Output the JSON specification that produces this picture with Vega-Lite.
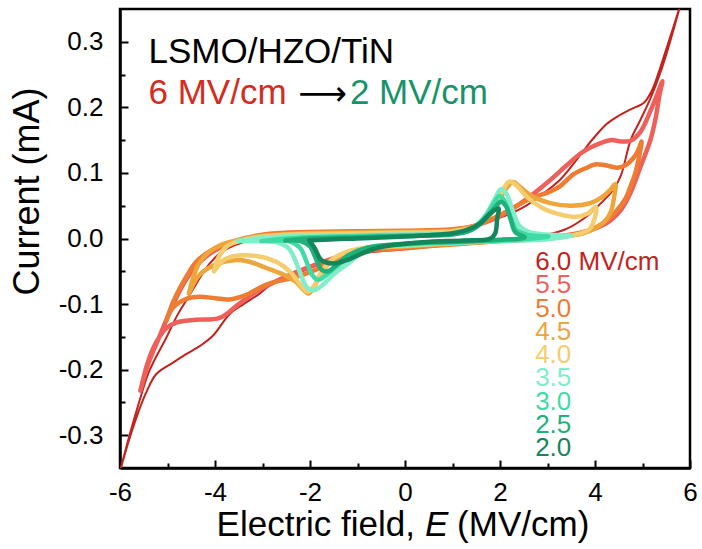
{
  "$schema": "https://vega.github.io/schema/vega-lite/v6.json",
  "width": 570,
  "height": 459,
  "autosize": "none",
  "padding": {"left": 120, "top": 9, "right": 12, "bottom": 81},
  "background": "white",
  "config": {
    "font": "Liberation Sans",
    "view": {"stroke": "black", "strokeWidth": 2.5},
    "axis": {"grid": false},
    "locale": {"number": {"decimal": ".", "thousands": ",", "grouping": [3], "currency": ["$", ""], "minus": "-"}}
  },
  "datasets": {
    "loops": [
      {"e":"6.0","x":-6.0,"y":-0.355},{"e":"6.0","x":-5.8,"y":-0.3},{"e":"6.0","x":-5.6,"y":-0.25},{"e":"6.0","x":-5.4,"y":-0.205},{"e":"6.0","x":-5.2,"y":-0.175},{"e":"6.0","x":-5.03,"y":-0.152},{"e":"6.0","x":-4.8,"y":-0.118},{"e":"6.0","x":-4.54,"y":-0.087},{"e":"6.0","x":-4.3,"y":-0.058},{"e":"6.0","x":-4.11,"y":-0.038},{"e":"6.0","x":-3.85,"y":-0.02},{"e":"6.0","x":-3.5,"y":-0.008},{"e":"6.0","x":-3.0,"y":0.0},{"e":"6.0","x":-2.0,"y":0.006},{"e":"6.0","x":-1.0,"y":0.009},{"e":"6.0","x":0,"y":0.011},{"e":"6.0","x":1.0,"y":0.014},{"e":"6.0","x":1.5,"y":0.021},{"e":"6.0","x":2.0,"y":0.032},{"e":"6.0","x":2.5,"y":0.048},{"e":"6.0","x":2.92,"y":0.069},{"e":"6.0","x":3.27,"y":0.09},{"e":"6.0","x":3.55,"y":0.114},{"e":"6.0","x":3.8,"y":0.138},{"e":"6.0","x":4.04,"y":0.159},{"e":"6.0","x":4.25,"y":0.175},{"e":"6.0","x":4.47,"y":0.186},{"e":"6.0","x":4.75,"y":0.197},{"e":"6.0","x":5.03,"y":0.207},{"e":"6.0","x":5.2,"y":0.226},{"e":"6.0","x":5.38,"y":0.262},{"e":"6.0","x":5.55,"y":0.3},{"e":"6.0","x":5.77,"y":0.35},{"e":"6.0","x":6.0,"y":0.41},
      {"e":"6.0","x":5.85,"y":0.37},{"e":"6.0","x":5.6,"y":0.305},{"e":"6.0","x":5.4,"y":0.258},{"e":"6.0","x":5.17,"y":0.214},{"e":"6.0","x":4.95,"y":0.18},{"e":"6.0","x":4.75,"y":0.15},{"e":"6.0","x":4.55,"y":0.097},{"e":"6.0","x":4.4,"y":0.076},{"e":"6.0","x":4.25,"y":0.063},{"e":"6.0","x":4.0,"y":0.045},{"e":"6.0","x":3.83,"y":0.034},{"e":"6.0","x":3.41,"y":0.015},{"e":"6.0","x":3.0,"y":0.006},{"e":"6.0","x":2.0,"y":-0.003},{"e":"6.0","x":1.0,"y":-0.009},{"e":"6.0","x":0,"y":-0.016},{"e":"6.0","x":-1.0,"y":-0.024},{"e":"6.0","x":-1.51,"y":-0.033},{"e":"6.0","x":-2.0,"y":-0.045},{"e":"6.0","x":-2.5,"y":-0.061},{"e":"6.0","x":-2.85,"y":-0.072},{"e":"6.0","x":-3.06,"y":-0.084},{"e":"6.0","x":-3.4,"y":-0.1},{"e":"6.0","x":-3.69,"y":-0.115},{"e":"6.0","x":-4.04,"y":-0.148},{"e":"6.0","x":-4.3,"y":-0.163},{"e":"6.0","x":-4.6,"y":-0.176},{"e":"6.0","x":-4.9,"y":-0.19},{"e":"6.0","x":-5.24,"y":-0.207},{"e":"6.0","x":-5.45,"y":-0.235},{"e":"6.0","x":-5.6,"y":-0.262},{"e":"6.0","x":-5.8,"y":-0.305},{"e":"6.0","x":-6.0,"y":-0.355},

      {"e":"5.5","x":-5.57,"y":-0.232},{"e":"5.5","x":-5.4,"y":-0.19},{"e":"5.5","x":-5.2,"y":-0.155},{"e":"5.5","x":-5.0,"y":-0.12},{"e":"5.5","x":-4.8,"y":-0.088},{"e":"5.5","x":-4.6,"y":-0.062},{"e":"5.5","x":-4.4,"y":-0.042},{"e":"5.5","x":-4.18,"y":-0.027},{"e":"5.5","x":-3.9,"y":-0.014},{"e":"5.5","x":-3.6,"y":-0.005},{"e":"5.5","x":-3.0,"y":0.003},{"e":"5.5","x":-2.0,"y":0.008},{"e":"5.5","x":-1.0,"y":0.01},{"e":"5.5","x":0,"y":0.011},{"e":"5.5","x":1.0,"y":0.013},{"e":"5.5","x":1.5,"y":0.02},{"e":"5.5","x":2.0,"y":0.034},{"e":"5.5","x":2.5,"y":0.057},{"e":"5.5","x":2.99,"y":0.085},{"e":"5.5","x":3.41,"y":0.112},{"e":"5.5","x":3.7,"y":0.13},{"e":"5.5","x":3.97,"y":0.141},{"e":"5.5","x":4.32,"y":0.15},{"e":"5.5","x":4.55,"y":0.148},{"e":"5.5","x":4.75,"y":0.149},{"e":"5.5","x":4.96,"y":0.163},{"e":"5.5","x":5.17,"y":0.195},{"e":"5.5","x":5.3,"y":0.218},{"e":"5.5","x":5.42,"y":0.24},
      {"e":"5.5","x":5.36,"y":0.22},{"e":"5.5","x":5.28,"y":0.185},{"e":"5.5","x":5.17,"y":0.151},{"e":"5.5","x":4.96,"y":0.11},{"e":"5.5","x":4.75,"y":0.07},{"e":"5.5","x":4.55,"y":0.044},{"e":"5.5","x":4.32,"y":0.027},{"e":"5.5","x":4.0,"y":0.015},{"e":"5.5","x":3.5,"y":0.006},{"e":"5.5","x":3.0,"y":0.002},{"e":"5.5","x":2.0,"y":-0.003},{"e":"5.5","x":1.0,"y":-0.008},{"e":"5.5","x":0,"y":-0.015},{"e":"5.5","x":-1.0,"y":-0.021},{"e":"5.5","x":-1.5,"y":-0.03},{"e":"5.5","x":-2.0,"y":-0.043},{"e":"5.5","x":-2.5,"y":-0.058},{"e":"5.5","x":-3.06,"y":-0.078},{"e":"5.5","x":-3.5,"y":-0.1},{"e":"5.5","x":-3.9,"y":-0.121},{"e":"5.5","x":-4.4,"y":-0.124},{"e":"5.5","x":-4.8,"y":-0.128},{"e":"5.5","x":-5.03,"y":-0.137},{"e":"5.5","x":-5.25,"y":-0.16},{"e":"5.5","x":-5.42,"y":-0.19},{"e":"5.5","x":-5.57,"y":-0.232},

      {"e":"5.0","x":-5.02,"y":-0.125},{"e":"5.0","x":-4.9,"y":-0.1},{"e":"5.0","x":-4.75,"y":-0.077},{"e":"5.0","x":-4.6,"y":-0.058},{"e":"5.0","x":-4.4,"y":-0.036},{"e":"5.0","x":-4.1,"y":-0.019},{"e":"5.0","x":-3.6,"y":-0.004},{"e":"5.0","x":-2.9,"y":0.007},{"e":"5.0","x":-2.0,"y":0.01},{"e":"5.0","x":-1.0,"y":0.011},{"e":"5.0","x":0,"y":0.012},{"e":"5.0","x":1.0,"y":0.014},{"e":"5.0","x":1.5,"y":0.02},{"e":"5.0","x":2.0,"y":0.036},{"e":"5.0","x":2.4,"y":0.052},{"e":"5.0","x":2.71,"y":0.063},{"e":"5.0","x":3.0,"y":0.07},{"e":"5.0","x":3.27,"y":0.08},{"e":"5.0","x":3.55,"y":0.098},{"e":"5.0","x":3.83,"y":0.108},{"e":"5.0","x":4.0,"y":0.113},{"e":"5.0","x":4.2,"y":0.112},{"e":"5.0","x":4.47,"y":0.108},{"e":"5.0","x":4.65,"y":0.112},{"e":"5.0","x":4.8,"y":0.122},{"e":"5.0","x":4.9,"y":0.133},{"e":"5.0","x":4.98,"y":0.148},
      {"e":"5.0","x":4.93,"y":0.125},{"e":"5.0","x":4.85,"y":0.1},{"e":"5.0","x":4.75,"y":0.08},{"e":"5.0","x":4.65,"y":0.062},{"e":"5.0","x":4.45,"y":0.042},{"e":"5.0","x":4.2,"y":0.025},{"e":"5.0","x":3.9,"y":0.013},{"e":"5.0","x":3.41,"y":0.004},{"e":"5.0","x":3.0,"y":0.0},{"e":"5.0","x":2.0,"y":-0.004},{"e":"5.0","x":1.0,"y":-0.009},{"e":"5.0","x":0,"y":-0.014},{"e":"5.0","x":-0.81,"y":-0.018},{"e":"5.0","x":-1.37,"y":-0.028},{"e":"5.0","x":-1.86,"y":-0.047},{"e":"5.0","x":-2.36,"y":-0.06},{"e":"5.0","x":-2.78,"y":-0.067},{"e":"5.0","x":-3.0,"y":-0.073},{"e":"5.0","x":-3.34,"y":-0.086},{"e":"5.0","x":-3.7,"y":-0.093},{"e":"5.0","x":-4.0,"y":-0.091},{"e":"5.0","x":-4.32,"y":-0.089},{"e":"5.0","x":-4.6,"y":-0.092},{"e":"5.0","x":-4.8,"y":-0.1},{"e":"5.0","x":-4.93,"y":-0.11},{"e":"5.0","x":-5.02,"y":-0.125},

      {"e":"4.5","x":-4.55,"y":-0.084},{"e":"4.5","x":-4.47,"y":-0.062},{"e":"4.5","x":-4.35,"y":-0.04},{"e":"4.5","x":-4.15,"y":-0.022},{"e":"4.5","x":-3.85,"y":-0.009},{"e":"4.5","x":-3.4,"y":-0.001},{"e":"4.5","x":-3.0,"y":0.004},{"e":"4.5","x":-2.0,"y":0.008},{"e":"4.5","x":-1.0,"y":0.009},{"e":"4.5","x":0,"y":0.01},{"e":"4.5","x":1.0,"y":0.012},{"e":"4.5","x":1.5,"y":0.02},{"e":"4.5","x":1.8,"y":0.037},{"e":"4.5","x":2.0,"y":0.06},{"e":"4.5","x":2.15,"y":0.078},{"e":"4.5","x":2.27,"y":0.086},{"e":"4.5","x":2.42,"y":0.079},{"e":"4.5","x":2.64,"y":0.066},{"e":"4.5","x":3.06,"y":0.054},{"e":"4.5","x":3.5,"y":0.05},{"e":"4.5","x":3.9,"y":0.054},{"e":"4.5","x":4.15,"y":0.063},{"e":"4.5","x":4.32,"y":0.074},{"e":"4.5","x":4.43,"y":0.083},
      {"e":"4.5","x":4.4,"y":0.062},{"e":"4.5","x":4.33,"y":0.04},{"e":"4.5","x":4.2,"y":0.026},{"e":"4.5","x":4.04,"y":0.017},{"e":"4.5","x":3.75,"y":0.008},{"e":"4.5","x":3.48,"y":0.004},{"e":"4.5","x":3.0,"y":0.0},{"e":"4.5","x":2.0,"y":-0.004},{"e":"4.5","x":1.0,"y":-0.008},{"e":"4.5","x":0,"y":-0.012},{"e":"4.5","x":-1.0,"y":-0.018},{"e":"4.5","x":-1.51,"y":-0.032},{"e":"4.5","x":-1.75,"y":-0.052},{"e":"4.5","x":-1.9,"y":-0.072},{"e":"4.5","x":-2.03,"y":-0.084},{"e":"4.5","x":-2.15,"y":-0.077},{"e":"4.5","x":-2.3,"y":-0.066},{"e":"4.5","x":-2.5,"y":-0.057},{"e":"4.5","x":-2.92,"y":-0.045},{"e":"4.5","x":-3.3,"y":-0.035},{"e":"4.5","x":-3.6,"y":-0.033},{"e":"4.5","x":-3.97,"y":-0.039},{"e":"4.5","x":-4.32,"y":-0.055},{"e":"4.5","x":-4.55,"y":-0.084},

      {"e":"4.0","x":-4.02,"y":-0.05},{"e":"4.0","x":-3.92,"y":-0.028},{"e":"4.0","x":-3.75,"y":-0.012},{"e":"4.0","x":-3.45,"y":-0.003},{"e":"4.0","x":-3.0,"y":0.003},{"e":"4.0","x":-2.0,"y":0.007},{"e":"4.0","x":-1.0,"y":0.008},{"e":"4.0","x":0,"y":0.009},{"e":"4.0","x":1.0,"y":0.011},{"e":"4.0","x":1.5,"y":0.019},{"e":"4.0","x":1.8,"y":0.04},{"e":"4.0","x":2.0,"y":0.066},{"e":"4.0","x":2.2,"y":0.087},{"e":"4.0","x":2.36,"y":0.08},{"e":"4.0","x":2.57,"y":0.063},{"e":"4.0","x":2.9,"y":0.046},{"e":"4.0","x":3.3,"y":0.036},{"e":"4.0","x":3.6,"y":0.033},{"e":"4.0","x":3.85,"y":0.038},{"e":"4.0","x":4.02,"y":0.048},
      {"e":"4.0","x":3.98,"y":0.028},{"e":"4.0","x":3.88,"y":0.014},{"e":"4.0","x":3.6,"y":0.006},{"e":"4.0","x":3.0,"y":0.001},{"e":"4.0","x":2.0,"y":-0.003},{"e":"4.0","x":1.0,"y":-0.007},{"e":"4.0","x":0,"y":-0.011},{"e":"4.0","x":-1.0,"y":-0.016},{"e":"4.0","x":-1.5,"y":-0.03},{"e":"4.0","x":-1.75,"y":-0.05},{"e":"4.0","x":-1.93,"y":-0.074},{"e":"4.0","x":-2.05,"y":-0.081},{"e":"4.0","x":-2.2,"y":-0.071},{"e":"4.0","x":-2.4,"y":-0.052},{"e":"4.0","x":-2.7,"y":-0.036},{"e":"4.0","x":-3.1,"y":-0.027},{"e":"4.0","x":-3.5,"y":-0.026},{"e":"4.0","x":-3.8,"y":-0.032},{"e":"4.0","x":-4.02,"y":-0.05},

      {"e":"3.5","x":-3.52,"y":-0.004},{"e":"3.5","x":-3.0,"y":0.001},{"e":"3.5","x":-2.5,"y":0.003},{"e":"3.5","x":-2.0,"y":0.004},{"e":"3.5","x":-1.0,"y":0.005},{"e":"3.5","x":0,"y":0.006},{"e":"3.5","x":1.0,"y":0.008},{"e":"3.5","x":1.4,"y":0.015},{"e":"3.5","x":1.7,"y":0.036},{"e":"3.5","x":1.9,"y":0.062},{"e":"3.5","x":2.02,"y":0.075},{"e":"3.5","x":2.13,"y":0.069},{"e":"3.5","x":2.26,"y":0.044},{"e":"3.5","x":2.4,"y":0.02},{"e":"3.5","x":2.6,"y":0.01},{"e":"3.5","x":3.0,"y":0.006},{"e":"3.5","x":3.52,"y":0.004},
      {"e":"3.5","x":3.0,"y":-0.001},{"e":"3.5","x":2.0,"y":-0.004},{"e":"3.5","x":1.0,"y":-0.007},{"e":"3.5","x":0,"y":-0.01},{"e":"3.5","x":-0.8,"y":-0.016},{"e":"3.5","x":-1.16,"y":-0.036},{"e":"3.5","x":-1.51,"y":-0.055},{"e":"3.5","x":-1.72,"y":-0.07},{"e":"3.5","x":-1.93,"y":-0.079},{"e":"3.5","x":-2.07,"y":-0.074},{"e":"3.5","x":-2.18,"y":-0.058},{"e":"3.5","x":-2.3,"y":-0.035},{"e":"3.5","x":-2.45,"y":-0.015},{"e":"3.5","x":-2.7,"y":-0.006},{"e":"3.5","x":-3.0,"y":-0.004},{"e":"3.5","x":-3.52,"y":-0.004},

      {"e":"3.0","x":-3.02,"y":-0.004},{"e":"3.0","x":-2.5,"y":0.0},{"e":"3.0","x":-2.0,"y":0.002},{"e":"3.0","x":-1.0,"y":0.004},{"e":"3.0","x":0,"y":0.005},{"e":"3.0","x":1.0,"y":0.007},{"e":"3.0","x":1.4,"y":0.014},{"e":"3.0","x":1.7,"y":0.034},{"e":"3.0","x":1.88,"y":0.055},{"e":"3.0","x":1.99,"y":0.065},{"e":"3.0","x":2.09,"y":0.058},{"e":"3.0","x":2.21,"y":0.035},{"e":"3.0","x":2.35,"y":0.013},{"e":"3.0","x":2.6,"y":0.005},{"e":"3.0","x":3.02,"y":0.003},
      {"e":"3.0","x":2.5,"y":-0.001},{"e":"3.0","x":2.0,"y":-0.003},{"e":"3.0","x":1.0,"y":-0.006},{"e":"3.0","x":0,"y":-0.009},{"e":"3.0","x":-0.8,"y":-0.015},{"e":"3.0","x":-1.2,"y":-0.03},{"e":"3.0","x":-1.5,"y":-0.046},{"e":"3.0","x":-1.7,"y":-0.058},{"e":"3.0","x":-1.83,"y":-0.063},{"e":"3.0","x":-1.95,"y":-0.056},{"e":"3.0","x":-2.07,"y":-0.036},{"e":"3.0","x":-2.2,"y":-0.015},{"e":"3.0","x":-2.4,"y":-0.005},{"e":"3.0","x":-3.02,"y":-0.004},

      {"e":"2.5","x":-2.52,"y":-0.003},{"e":"2.5","x":-2.0,"y":0.0},{"e":"2.5","x":-1.0,"y":0.002},{"e":"2.5","x":0,"y":0.004},{"e":"2.5","x":1.0,"y":0.006},{"e":"2.5","x":1.4,"y":0.013},{"e":"2.5","x":1.7,"y":0.03},{"e":"2.5","x":1.9,"y":0.048},{"e":"2.5","x":2.02,"y":0.056},{"e":"2.5","x":2.12,"y":0.05},{"e":"2.5","x":2.22,"y":0.03},{"e":"2.5","x":2.32,"y":0.01},{"e":"2.5","x":2.52,"y":0.002},
      {"e":"2.5","x":2.0,"y":-0.002},{"e":"2.5","x":1.0,"y":-0.005},{"e":"2.5","x":0,"y":-0.008},{"e":"2.5","x":-0.8,"y":-0.014},{"e":"2.5","x":-1.2,"y":-0.026},{"e":"2.5","x":-1.45,"y":-0.041},{"e":"2.5","x":-1.62,"y":-0.05},{"e":"2.5","x":-1.75,"y":-0.048},{"e":"2.5","x":-1.88,"y":-0.03},{"e":"2.5","x":-2.0,"y":-0.012},{"e":"2.5","x":-2.2,"y":-0.004},{"e":"2.5","x":-2.52,"y":-0.003},

      {"e":"2.0","x":-2.02,"y":-0.003},{"e":"2.0","x":-1.5,"y":-0.001},{"e":"2.0","x":-1.0,"y":0.0},{"e":"2.0","x":0,"y":0.003},{"e":"2.0","x":0.5,"y":0.005},{"e":"2.0","x":1.0,"y":0.008},{"e":"2.0","x":1.3,"y":0.013},{"e":"2.0","x":1.58,"y":0.023},{"e":"2.0","x":1.79,"y":0.038},{"e":"2.0","x":1.97,"y":0.046},
      {"e":"2.0","x":1.94,"y":0.03},{"e":"2.0","x":1.9,"y":0.008},{"e":"2.0","x":1.8,"y":0.0},{"e":"2.0","x":1.23,"y":-0.003},{"e":"2.0","x":0.53,"y":-0.005},{"e":"2.0","x":0,"y":-0.008},{"e":"2.0","x":-0.5,"y":-0.013},{"e":"2.0","x":-0.81,"y":-0.02},{"e":"2.0","x":-1.23,"y":-0.033},{"e":"2.0","x":-1.51,"y":-0.038},{"e":"2.0","x":-1.76,"y":-0.033},{"e":"2.0","x":-1.9,"y":-0.015},{"e":"2.0","x":-2.02,"y":-0.003}
    ],
    "keyLabels": [
      {"e":"6.0","label":"6.0 MV/cm"},{"e":"5.5","label":"5.5"},{"e":"5.0","label":"5.0"},{"e":"4.5","label":"4.5"},{"e":"4.0","label":"4.0"},
      {"e":"3.5","label":"3.5"},{"e":"3.0","label":"3.0"},{"e":"2.5","label":"2.5"},{"e":"2.0","label":"2.0"}
    ]
  },
  "layer": [
    {
      "layer": [
        {
          "data": {"name": "loops"},
          "mark": {"type": "line", "interpolate": "catmull-rom", "clip": true, "strokeCap": "round", "strokeJoin": "round"},
          "encoding": {
            "x": {
              "field": "x", "type": "quantitative",
              "scale": {"domain": [-6, 6], "nice": false, "zero": false},
              "axis": {"values": [-6, -4, -2, 0, 2, 4, 6], "tickSize": -8, "tickWidth": 2, "tickColor": "black", "domainColor": "black", "domainWidth": 2.5, "labelFontSize": 26, "labelColor": "black", "labelPadding": 19, "labelFlush": false, "labelOverlap": false, "title": null, "grid": false}
            },
            "y": {
              "field": "y", "type": "quantitative",
              "scale": {"domain": [-0.35, 0.35], "nice": false, "zero": false},
              "axis": {"values": [-0.3, -0.2, -0.1, 0, 0.1, 0.2, 0.3], "format": ".1f", "tickSize": -8, "tickWidth": 2, "tickColor": "black", "domainColor": "black", "domainWidth": 2.5, "labelFontSize": 26, "labelColor": "black", "labelPadding": 25, "labelFlush": false, "labelOverlap": false, "grid": false,
                       "title": "Current (mA)", "titleFontSize": 36, "titleFontWeight": "normal", "titleColor": "black", "titleX": -93, "titleY": 182, "titleAngle": -90, "titleAlign": "center", "titleBaseline": "middle"}
            },
            "color": {
              "field": "e", "type": "nominal",
              "scale": {"domain": ["6.0", "5.5", "5.0", "4.5", "4.0", "3.5", "3.0", "2.5", "2.0"],
                        "range": ["#C4221C", "#F0605A", "#EE7C32", "#EDA53C", "#F5CC6E", "#80EEC8", "#3EDBA6", "#1FB07C", "#13865C"]},
              "legend": null
            },
            "strokeWidth": {"condition": {"test": "datum.e === '6.0'", "value": 2}, "value": 4.5},
            "order": {"value": null}
          }
        },
        {
          "data": {"values": [{}]},
          "mark": {"type": "text", "align": "left", "baseline": "alphabetic", "fontSize": 35, "color": "black"},
          "encoding": {
            "x": {"datum": -5.4, "type": "quantitative", "axis": {"values": [-5, -3, -1, 1, 3, 5], "orient": "bottom", "tickSize": -5, "tickWidth": 2, "tickColor": "black", "labels": false, "domain": false, "title": null, "grid": false}},
            "y": {"datum": 0.268, "type": "quantitative", "axis": {"values": [-0.25, -0.15, -0.05, 0.05, 0.15, 0.25], "orient": "left", "tickSize": -5, "tickWidth": 2, "tickColor": "black", "labels": false, "domain": false, "title": null, "grid": false}},
            "text": {"value": "LSMO/HZO/TiN"}
          }
        },
        {
          "data": {"values": [{}]},
          "mark": {"type": "text", "align": "left", "baseline": "alphabetic", "fontSize": 35, "color": "#D42C1E"},
          "encoding": {
            "x": {"datum": -5.4, "type": "quantitative", "axis": null},
            "y": {"datum": 0.2057, "type": "quantitative", "axis": null},
            "text": {"value": "6 MV/cm"}
          }
        },
        {
          "data": {"values": [{}]},
          "mark": {"type": "text", "align": "left", "baseline": "alphabetic", "fontSize": 34, "font": "DejaVu Sans", "color": "black"},
          "encoding": {
            "x": {"datum": -2.25, "type": "quantitative", "axis": null},
            "y": {"datum": 0.203, "type": "quantitative", "axis": null},
            "text": {"value": "⟶"}
          }
        },
        {
          "data": {"values": [{}]},
          "mark": {"type": "text", "align": "left", "baseline": "alphabetic", "fontSize": 35, "color": "#17936B"},
          "encoding": {
            "x": {"datum": -1.16, "type": "quantitative", "axis": null},
            "y": {"datum": 0.2057, "type": "quantitative", "axis": null},
            "text": {"value": "2 MV/cm"}
          }
        },
        {
          "data": {"values": [{}]},
          "mark": {"type": "text", "align": "right", "baseline": "alphabetic", "fontSize": 35, "color": "black"},
          "encoding": {
            "x": {"datum": 0.21, "type": "quantitative", "axis": null},
            "y": {"datum": -0.4544, "type": "quantitative", "axis": null},
            "text": {"value": "Electric field,"}
          }
        },
        {
          "data": {"values": [{}]},
          "mark": {"type": "text", "align": "center", "baseline": "alphabetic", "fontSize": 35, "fontStyle": "italic", "color": "black"},
          "encoding": {
            "x": {"datum": 0.665, "type": "quantitative", "axis": null},
            "y": {"datum": -0.4544, "type": "quantitative", "axis": null},
            "text": {"value": "E"}
          }
        },
        {
          "data": {"values": [{}]},
          "mark": {"type": "text", "align": "left", "baseline": "alphabetic", "fontSize": 35, "color": "black"},
          "encoding": {
            "x": {"datum": 1.097, "type": "quantitative", "axis": null},
            "y": {"datum": -0.4544, "type": "quantitative", "axis": null},
            "text": {"value": "(MV/cm)"}
          }
        }
      ],
      "resolve": {"axis": {"x": "independent", "y": "independent"}}
    },
    {
      "data": {"name": "keyLabels"},
      "mark": {"type": "text", "align": "left", "baseline": "middle", "fontSize": 26},
      "encoding": {
        "x": {"datum": 2.74, "type": "quantitative", "axis": null},
        "y": {"field": "e", "type": "ordinal", "sort": null, "axis": null,
              "scale": {"type": "point", "domain": ["6.0", "5.5", "5.0", "4.5", "4.0", "3.5", "3.0", "2.5", "2.0"], "range": [253, 439], "padding": 0}},
        "color": {"field": "e", "type": "nominal", "legend": null},
        "text": {"field": "label"}
      }
    }
  ],
  "resolve": {"scale": {"y": "independent"}, "axis": {"x": "independent", "y": "independent"}}
}
